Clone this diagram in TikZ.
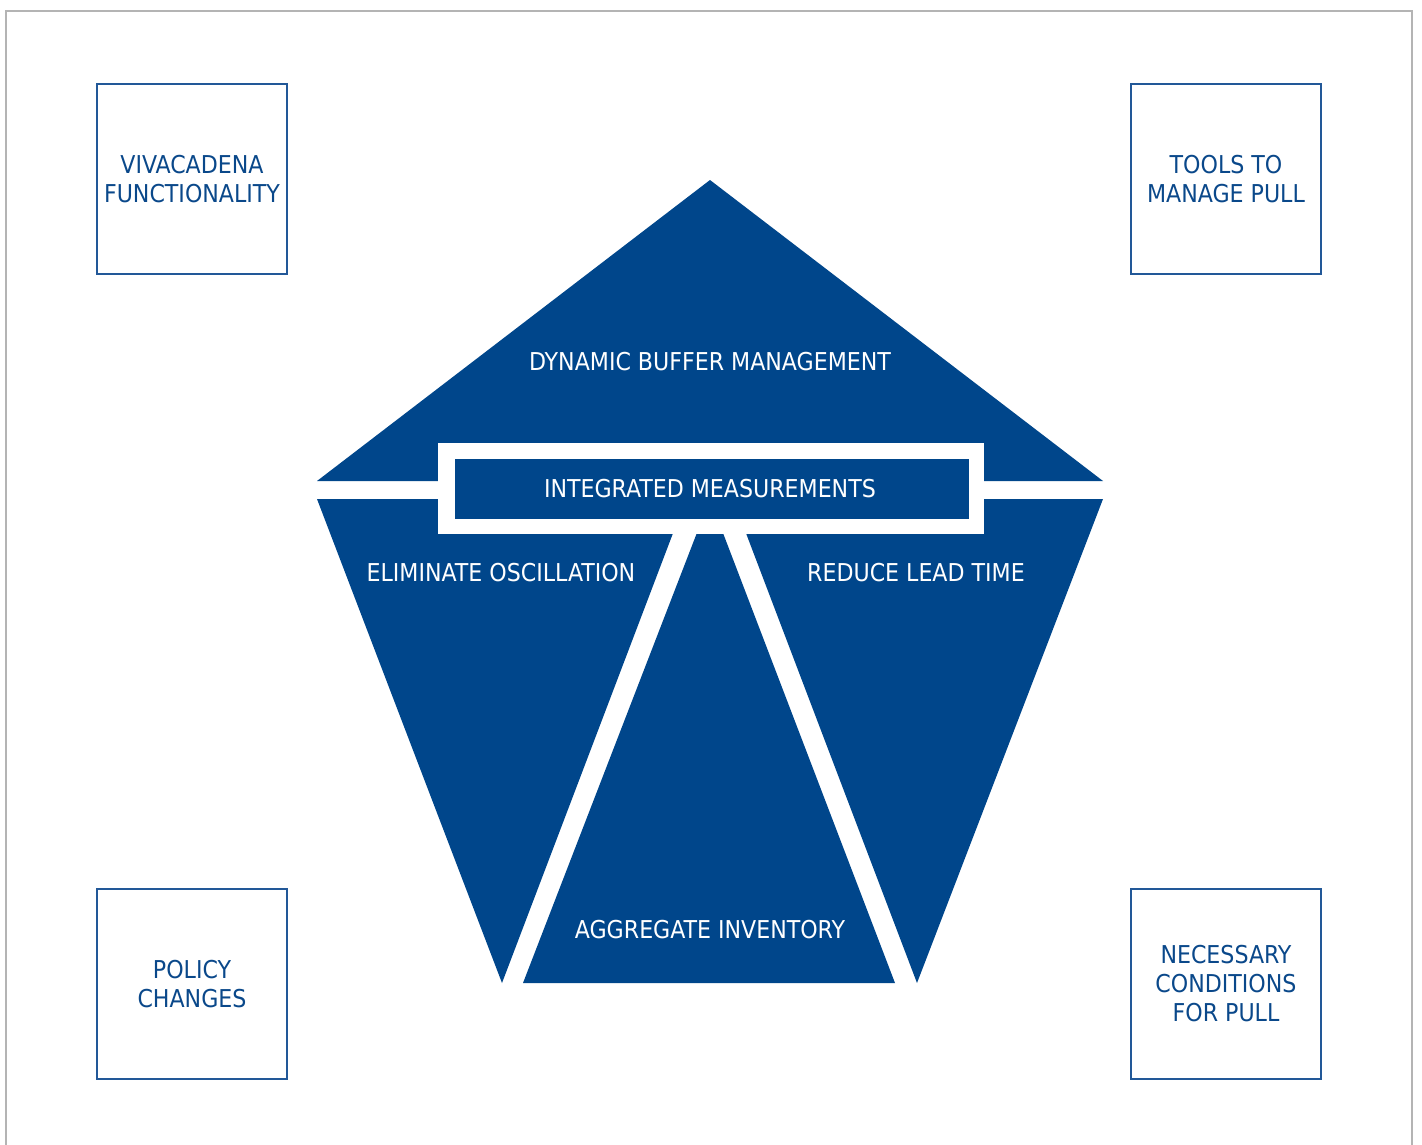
\documentclass[tikz,border=0pt]{standalone}
\usepackage{fontspec}
\setmainfont{DejaVu Sans Condensed}

\definecolor{pentablue}{RGB}{0,70,139}
\definecolor{boxblue}{RGB}{34,88,152}
\definecolor{labelblue}{RGB}{10,72,138}
\definecolor{framegray}{RGB}{180,180,180}

\tikzset{
  sidebox/.style={draw=boxblue, line width=1.5pt, minimum width=190pt,
    minimum height=190pt, inner sep=0pt, align=center, text=labelblue,
    font=\fontsize{24.6}{29}\selectfont},
  piecelabel/.style={inner sep=0pt, text=white, font=\fontsize{24.6}{29}\selectfont},
  measbox/.style={fill=pentablue, minimum width=514pt, minimum height=60pt,
    inner sep=0pt}
}

\begin{document}
\begin{tikzpicture}[x=1pt,y=-1pt]
 \def\cx{710}
 \def\gapy{499}
 \def\basey{983}

 \useasboundingbox (0,0) rectangle (1422,1144);
 \draw[framegray, line width=1.5pt] (6,1160) -- (6,11) -- (1412,11) -- (1412,1160);

 \path coordinate (apex) at (\cx,180)
  coordinate (topL) at (317,481)
  coordinate (topR) at (1103,481)
  coordinate (midL) at (317,\gapy)
  coordinate (midR) at (1103,\gapy)
  coordinate (cutL) at (686,\gapy)
  coordinate (cutR) at (733,\gapy)
  coordinate (tipL) at (502,\basey)
  coordinate (tipR) at (917,\basey)
  coordinate (baseL) at (523,\basey)
  coordinate (baseR) at (895,\basey)
  coordinate (midC) at (\cx,\gapy);

 %top triangle
 \fill[pentablue] (apex) -- (topL) -- (topR) -- cycle;
 %lower pieces
 \fill[pentablue] (midL) -- (cutL) -- (tipL) -- cycle;
 \fill[pentablue] (midC) -- (baseR) -- (baseL) -- cycle;
 \fill[pentablue] (cutR) -- (midR) -- (tipR) -- cycle;

 %measurement bar
 \fill[white] (438,443) rectangle (984,534);
 \node (measbar) [measbox] at (712,489) {};
 \node (meas) [piecelabel] at (\cx,489) {INTEGRATED MEASUREMENTS};

 \node (buffer) [piecelabel] at (\cx,362) {DYNAMIC BUFFER MANAGEMENT};
 \node (oscil) [piecelabel] at (501,573) {ELIMINATE OSCILLATION};
 \node (lead) [piecelabel] at (916,573) {REDUCE LEAD TIME};
 \node (inven) [piecelabel] at (\cx,930) {AGGREGATE INVENTORY};

 %corner boxes
 \node (viva) [sidebox] at (192,179) {VIVACADENA\\FUNCTIONALITY};
 \node (tools) [sidebox] at (1226,179) {TOOLS TO\\MANAGE PULL};
 \node (policy) [sidebox] at (192,984) {POLICY\\CHANGES};
 \node (neces) [sidebox] at (1226,984) {NECESSARY\\CONDITIONS\\FOR PULL};
\end{tikzpicture}
\end{document}
